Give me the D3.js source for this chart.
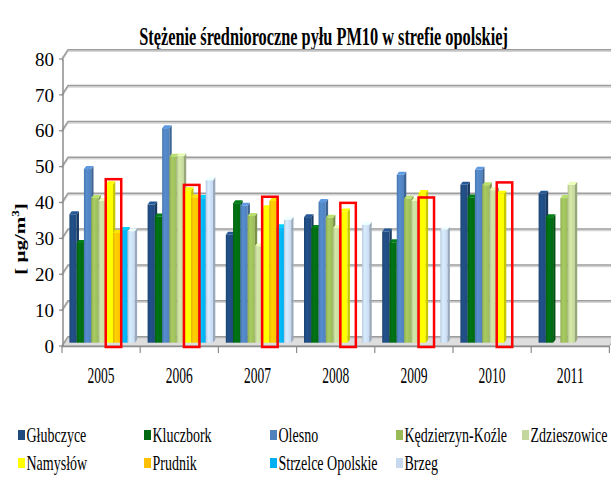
<!DOCTYPE html>
<html>
<head>
<meta charset="utf-8">
<script src="https://cdn.jsdelivr.net/npm/d3@7"></script>
<style>
  body { margin: 0; background: #fff; }
</style>
</head>
<body>
<div id="chartDiv"></div>
<script>
var width = 611
var height = 483

var years = ["2005", "2006", "2007", "2008", "2009", "2010", "2011"]
var stations = ["Głubczyce", "Kluczbork", "Olesno", "Kędzierzyn-Koźle", "Zdzieszowice",
                "Namysłów", "Prudnik", "Strzelce Opolskie", "Brzeg"]
var glubczyce = [35.8, 38.5, 30.1, 35.0, 31.0, 44.0, 41.5]
var kluczbork = [27.8, 35.2, 38.9, 32.0, 28.0, 40.5, 35.0]
var olesno = [48.4, 59.8, 38.2, 39.2, 46.8, 48.2, null]
var kedzierzyn = [40.3, 51.8, 35.3, 34.8, 40.1, 43.9, 40.3]
var zdzieszowice = [39.5, 52.0, 26.9, 32.0, 39.5, 42.5, 44.0]
var namyslow = [44.2, 42.5, 37.5, 36.6, 41.7, 41.5, null]
var prudnik = [30.6, 40.5, 39.5, null, null, null, null]
var strzelce = [31.4, 40.3, 32.2, null, null, null, null]
var brzeg = [31.1, 45.3, 34.3, 32.9, 31.5, null, null]
var seriesValues = [glubczyce, kluczbork, olesno, kedzierzyn, zdzieszowice,
                    namyslow, prudnik, strzelce, brzeg]
var colors = ["#1f4a7e", "#006a12", "#4f81bd", "#9bbb59", "#c3d69b",
              "#ffff00", "#ffc000", "#00b0f0", "#c6d9f1"]
var yTicks = [0, 10, 20, 30, 40, 50, 60, 70, 80]
// tops of the red highlight frames (value units) around Namysłów
var highlightTop = [46.5, 44.9, 41.6, 39.9, 41.4, 45.6, null]

var serifFont = "'Liberation Serif', 'DejaVu Serif', serif"

// 3D offsets
var wallDx = 6, wallDy = -9.3
var barDx = 1, barDy = -3.3
var depthX = 2.3, depthY = -3

var svg = d3.select("#chartDiv").append("svg")
    .attr("width", width)
    .attr("height", height)
    .attr("font-family", serifFont)
    .style("font-family", serifFont)

var defs = svg.append("defs")

// squeeze a text horizontally so it spans w pixels (the picture is narrowed)
function fitText(sel, x, y, w) {
    sel.each(function() {
        var len = this.getComputedTextLength()
        d3.select(this).attr("transform", "translate(" + x + "," + y + ") scale(" + (w / len) + ",1)")
    })
}

// scales
var x0 = d3.scaleBand().domain(years).range([62, 609.4])
var x1 = d3.scaleBand().domain(stations).range([6.4, x0.bandwidth() - 6.4])
var y = d3.scaleLinear().domain([0, 80]).range([346, 59])

// title
var title = svg.append("text")
    .attr("text-anchor", "middle")
    .attr("font-size", "26px")
    .attr("font-weight", "bold")
    .text("Stężenie średnioroczne pyłu PM10 w strefie opolskiej")
fitText(title, 323.5, 45, 369)

// floor
var x0L = x0.range()[0], x0R = x0.range()[1]
svg.append("polygon")
    .attr("points", [[x0L, y(0)], [x0R, y(0)], [x0R + wallDx, y(0) + wallDy], [x0L + wallDx, y(0) + wallDy]].join(" "))
    .attr("fill", "#dedede")
    .attr("stroke", "#a0a0a0")
    .attr("stroke-width", 1)

// back wall gridlines
var gridG = svg.append("g")
gridG.selectAll(".gridShadow")
    .data(yTicks)
    .enter()
    .append("polyline")
    .attr("class", "gridShadow")
    .attr("fill", "none")
    .attr("stroke", "#d4d4d4")
    .attr("stroke-width", 1.5)
    .attr("points", function(d) {
        return [[x0L, y(d) + 1.5], [x0L + wallDx, y(d) + wallDy + 1.5], [width + 10, y(d) + wallDy + 1.5]].join(" ")
    })
gridG.selectAll(".grid")
    .data(yTicks)
    .enter()
    .append("polyline")
    .attr("class", "grid")
    .attr("fill", "none")
    .attr("stroke", "#9c9c9c")
    .attr("stroke-width", 1.5)
    .attr("points", function(d) {
        return [[x0L, y(d)], [x0L + wallDx, y(d) + wallDy], [width + 10, y(d) + wallDy]].join(" ")
    })

// gradient per station for the front faces
colors.forEach(function(c, i) {
    var g = defs.append("linearGradient")
        .attr("id", "grad" + i)
        .attr("x1", "0%").attr("x2", "100%")
    g.append("stop").attr("offset", "0%").attr("stop-color", d3.color(c).darker(0.25))
    g.append("stop").attr("offset", "35%").attr("stop-color", d3.color(c).brighter(0.25))
    g.append("stop").attr("offset", "100%").attr("stop-color", c)
})

// flatten bars, drawn left to right
var bars = []
years.forEach(function(yr, j) {
    stations.forEach(function(st, i) {
        var v = seriesValues[i][j]
        if (v !== null) bars.push({year: yr, station: st, idx: i, value: v})
    })
})

var bw = x1.bandwidth()
var barsG = svg.append("g")
var barG = barsG.selectAll(".bar")
    .data(bars)
    .enter()
    .append("g")
    .attr("class", "bar")

barG.each(function(d) {
    var g = d3.select(this)
    var xl = x0(d.year) + x1(d.station) + barDx
    var xr = xl + bw
    var yb = y(0) + barDy
    var yt = y(d.value) + barDy
    var c = colors[d.idx]
    // front
    g.append("rect")
        .attr("x", xl)
        .attr("y", yt)
        .attr("width", bw)
        .attr("height", yb - yt)
        .attr("fill", "url(#grad" + d.idx + ")")
    // right side
    g.append("polygon")
        .attr("points", [[xr, yb], [xr + depthX, yb + depthY], [xr + depthX, yt + depthY], [xr, yt]].join(" "))
        .attr("fill", d3.color(c).darker(0.7))
    // top
    g.append("polygon")
        .attr("points", [[xl, yt], [xr, yt], [xr + depthX, yt + depthY], [xl + depthX, yt + depthY]].join(" "))
        .attr("fill", d3.color(c).brighter(0.5))
})

// value axis
svg.append("line")
    .attr("x1", x0L + 1).attr("x2", x0L + 1)
    .attr("y1", y(80)).attr("y2", y(0))
    .attr("stroke", "#8c8c8c")
    .attr("stroke-width", 1.5)

var yAxisG = svg.append("g")
yAxisG.selectAll(".ytick")
    .data(yTicks)
    .enter()
    .append("line")
    .attr("class", "ytick")
    .attr("x1", x0L - 3).attr("x2", x0L + 1)
    .attr("y1", function(d) { return y(d) }).attr("y2", function(d) { return y(d) })
    .attr("stroke", "#8c8c8c")
    .attr("stroke-width", 1.2)
yAxisG.selectAll(".ylabel")
    .data(yTicks)
    .enter()
    .append("text")
    .attr("class", "ylabel")
    .attr("x", 54)
    .attr("y", function(d) { return y(d) })
    .attr("dy", "0.35em")
    .attr("text-anchor", "end")
    .attr("font-size", "19px")
    .text(function(d) { return d })

// axis title
var yTitle = svg.append("text")
    .attr("transform", "translate(25,239) scale(0.72,1) rotate(-90)")
    .attr("text-anchor", "middle")
    .attr("font-size", "21px")
    .attr("font-weight", "bold")
yTitle.append("tspan").text("[ µg/m")
yTitle.append("tspan").attr("font-size", "13px").attr("dy", "-8").text("3")
yTitle.append("tspan").attr("dy", "8").text("]")

// category axis
svg.append("line")
    .attr("x1", x0L).attr("x2", x0R)
    .attr("y1", y(0) + 0.5).attr("y2", y(0) + 0.5)
    .attr("stroke", "#8c8c8c")
    .attr("stroke-width", 1.5)

var xAxisG = svg.append("g")
xAxisG.selectAll(".xtick")
    .data(years.concat(["end"]))
    .enter()
    .append("line")
    .attr("class", "xtick")
    .attr("x1", function(d) { return d === "end" ? x0R : x0(d) })
    .attr("x2", function(d) { return d === "end" ? x0R : x0(d) })
    .attr("y1", y(0)).attr("y2", y(0) + 7)
    .attr("stroke", "#8c8c8c")
    .attr("stroke-width", 1.2)
xAxisG.selectAll(".xlabel")
    .data(years)
    .enter()
    .append("text")
    .attr("class", "xlabel")
    .attr("text-anchor", "middle")
    .attr("font-size", "23px")
    .text(function(d) { return d })
    .each(function(d) {
        fitText(d3.select(this), x0(d) + x0.bandwidth() / 2, 383, 27)
    })

// red highlight frames round Namysłów
svg.selectAll(".highlight")
    .data(years.filter(function(d, j) { return highlightTop[j] !== null }))
    .enter()
    .append("rect")
    .attr("class", "highlight")
    .attr("x", function(d) { return x0(d) + x1("Namysłów") + 1 })
    .attr("y", function(d) { return y(highlightTop[years.indexOf(d)]) })
    .attr("width", 15.5)
    .attr("height", function(d) { return y(0) - y(highlightTop[years.indexOf(d)]) + 1 })
    .attr("fill", "none")
    .attr("stroke", "#ff0000")
    .attr("stroke-width", 2.5)

// legend: two rows
var legendG = svg.append("g")
var legItem = legendG.selectAll(".legItem")
    .data(stations)
    .enter()
    .append("g")
    .attr("class", "legItem")
    .attr("transform", function(d, i) {
        var col = i < 5 ? i : i - 5
        var row = i < 5 ? 0 : 1
        return "translate(" + (18 + col * 126) + "," + (430 + row * 28) + ")"
    })
legItem.append("rect")
    .attr("width", 7)
    .attr("height", 10)
    .attr("fill", function(d, i) { return colors[i] })
legItem.append("text")
    .attr("transform", "translate(8.5,11.5) scale(0.7,1)")
    .attr("font-size", "20px")
    .text(function(d) { return d })
</script>
</body>
</html>
